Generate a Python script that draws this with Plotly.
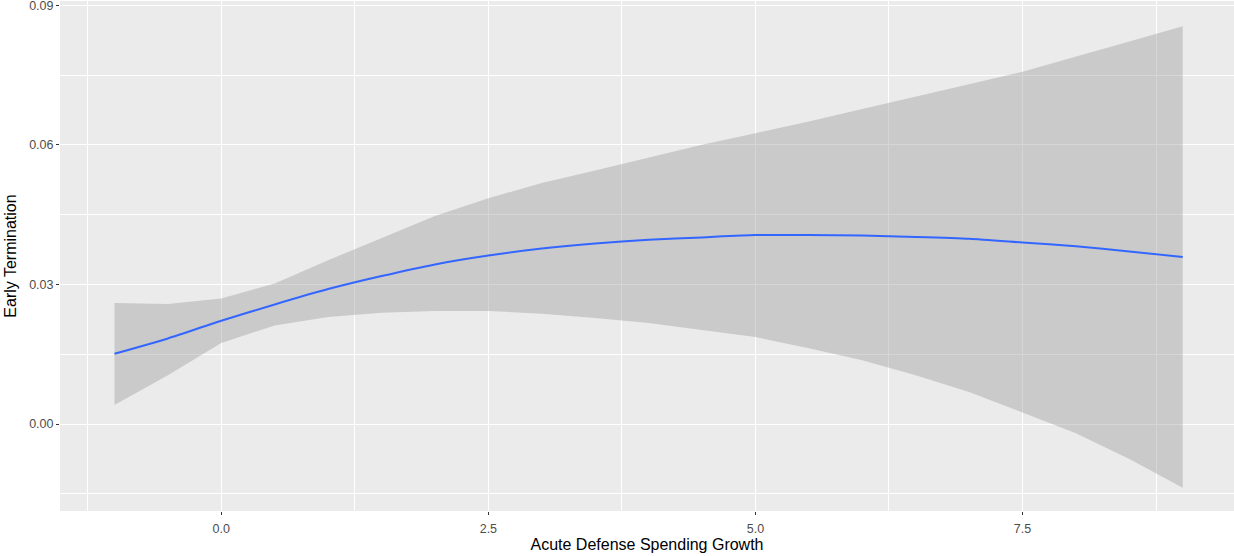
import plotly.graph_objects as go

# Data (loess-style smooth with confidence band)
x_vals = [-1, -0.5, 0, 0.5, 1, 1.5, 2, 2.5, 3, 3.5, 4, 4.5, 5, 5.5, 6, 6.5, 7, 7.5, 8, 8.5, 9]
fit_vals = [0.0151, 0.0184, 0.0222, 0.0257, 0.0290, 0.0318, 0.0343, 0.0362, 0.0377, 0.0388, 0.0396, 0.0401, 0.0406, 0.0406, 0.0405, 0.0402, 0.0398, 0.0390, 0.0382, 0.0371, 0.0359]
upper_vals = [0.0260, 0.0258, 0.0270, 0.0302, 0.0352, 0.0400, 0.0447, 0.0485, 0.0518, 0.0545, 0.0573, 0.0600, 0.0625, 0.0650, 0.0677, 0.0703, 0.0730, 0.0757, 0.0789, 0.0822, 0.0855]
lower_vals = [0.0041, 0.0105, 0.0174, 0.0212, 0.0230, 0.0239, 0.0243, 0.0243, 0.0237, 0.0228, 0.0217, 0.0202, 0.0187, 0.0163, 0.0137, 0.0105, 0.0069, 0.0025, -0.0020, -0.0075, -0.0137]

x_ticks = [0, 2.5, 5, 7.5]
y_ticks = [0.0, 0.03, 0.06, 0.09]

fig = go.Figure()
fig.add_trace(go.Scatter(
    x=x_vals + x_vals[::-1],
    y=upper_vals + lower_vals[::-1],
    fill="toself", fillcolor="rgba(153,153,153,0.4)",
    line=dict(width=0), mode="lines", hoverinfo="skip", showlegend=False,
))
fig.add_trace(go.Scatter(
    x=x_vals, y=fit_vals, mode="lines",
    line=dict(color="#3366FF", width=2, shape="spline", smoothing=0.6),
    showlegend=False,
))

font_family = "Liberation Sans, Arial, sans-serif"
fig.update_layout(
    width=1234, height=556,
    margin=dict(l=60, r=0, t=1, b=45),
    paper_bgcolor="white", plot_bgcolor="#EBEBEB",
    font=dict(family=font_family, color="#4D4D4D"),
    xaxis=dict(
        range=[-1.51, 9.48], tickvals=x_ticks, ticktext=[f"{v:.1f}" for v in x_ticks],
        showgrid=True, gridcolor="white", gridwidth=1.1, zeroline=False,
        ticks="outside", ticklen=3, tickcolor="#333333", tickwidth=1,
        tickfont=dict(size=12.5, color="#4D4D4D"), ticklabelstandoff=3,
        minor=dict(tickvals=[-1.25, 1.25, 3.75, 6.25, 8.75], showgrid=True,
                   gridcolor="white", gridwidth=0.55, ticks=""),
        title=dict(text="Acute Defense Spending Growth", font=dict(size=16, color="black"), standoff=1),
        showline=False, ticklabeloverflow="allow",
    ),
    yaxis=dict(
        range=[-0.01868, 0.0909], tickvals=y_ticks, ticktext=[f"{v:.2f}" for v in y_ticks],
        showgrid=True, gridcolor="white", gridwidth=1.1, zeroline=False,
        ticks="outside", ticklen=3, tickcolor="#333333", tickwidth=1,
        tickfont=dict(size=12.5, color="#4D4D4D"),
        minor=dict(tickvals=[-0.015, 0.015, 0.045, 0.075], showgrid=True,
                   gridcolor="white", gridwidth=0.55, ticks=""),
        title=dict(text="Early Termination", font=dict(size=16, color="black"), standoff=8),
        showline=False, ticklabeloverflow="allow",
    ),
)

fig.write_html("out.html")
